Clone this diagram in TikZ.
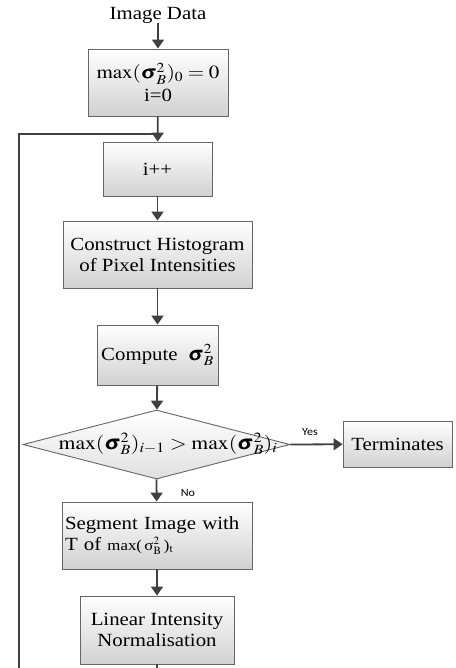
\documentclass[tikz,border=0pt]{standalone}
\usepackage{amsmath}
\usepackage{mathptmx}
\usepackage{bm}
\usepackage{graphicx}
\usepackage{fontspec}
\setmainfont{Liberation Serif}[FakeStretch=1.12]
\newfontfamily\lblfont{Carlito}[FakeStretch=1.1]
\usetikzlibrary{arrows.meta,shapes.geometric,calc}
\definecolor{lc}{HTML}{404040}
\newcommand{\wmath}[2]{\scalebox{#1}[1]{#2}}
\tikzset{
  box/.style={draw=black!60, line width=0.9pt, top color=white, bottom color=black!18, rectangle, inner sep=3pt, align=center},
  conn/.style={draw=lc, line width=1.8pt, -{Triangle[length=9pt,width=12pt]}},
  plain/.style={draw=lc, line width=1.8pt},
  lbl/.style={font=\lblfont\fontsize{11}{13}\selectfont, inner sep=0pt}
}
\begin{document}
\begin{tikzpicture}[x=1pt,y=-1pt,font=\fontsize{18.6}{21}\selectfont]
\useasboundingbox (0,0) rectangle (455,668);
\node[inner sep=0pt] (src) at (158,15) {Image Data};
\node[box, minimum width=140pt, minimum height=67pt] (init) at (158,82.5)
  {\wmath{1.13}{$\max(\bm{\sigma}^2_{B})_0 = 0$}\\[2pt] i=0};
\node[box, minimum width=109pt, minimum height=54pt] (inc) at (157.5,169) {i++};
\node[box, minimum width=189pt, minimum height=67pt] (hist) at (157.5,254.5)
  {Construct Histogram\\of Pixel Intensities};
\node[box, minimum width=121pt, minimum height=60pt] (comp) at (157.5,355)
  {Compute\ \ \wmath{1.12}{$\bm{\sigma}^2_{B}$}};
\node[diamond, draw=black!60, line width=0.9pt, top color=white, bottom color=black!12,
  minimum width=267pt, minimum height=69pt, inner sep=0pt] (dec) at (156.5,444.5) {};
\node[inner sep=0pt] (dect) at (168,444)
  {\fontsize{19}{21}\selectfont\wmath{1.14}{$\max(\bm{\sigma}^2_{B})_{i-1} > \max(\bm{\sigma}^2_{B})_{i}$}};
\node[box, minimum width=109pt, minimum height=46pt] (term) at (397.5,444) {Terminates};
\node[box, minimum width=190pt, minimum height=67pt, text width=184pt, align=left, inner sep=2pt] (seg) at (157,535.5)
  {Segment Image with\\T of {\fontsize{15}{18}\selectfont max(\,σ$^{\scriptstyle 2}_{\scriptstyle\mathrm{B}}$\,)$_{\mathrm{t}}$}};
\node[box, minimum width=154pt, minimum height=68pt] (norm) at (157,630)
  {Linear Intensity\\Normalisation};
\coordinate (bot) at (157,668);
\coordinate (loopstart) at (19,668);
\coordinate (join) at (157.5,134);
\node[lbl] (yes) at (310,432) {Yes};
\node[lbl] (no) at (188,493) {No};
\draw[conn] (src) -- (init);
\draw[conn] (init) -- (inc);
\draw[conn] (inc) -- (hist);
\draw[conn] (hist) -- (comp);
\draw[conn] (comp) -- (dec);
\draw[conn] (dec.east) -- (term);
\draw[conn] (dec.south) -- (seg);
\draw[conn] (seg) -- (norm);
\draw[plain] (norm) -- (bot);
\draw[plain] (loopstart) |- (join);
\end{tikzpicture}
\end{document}
